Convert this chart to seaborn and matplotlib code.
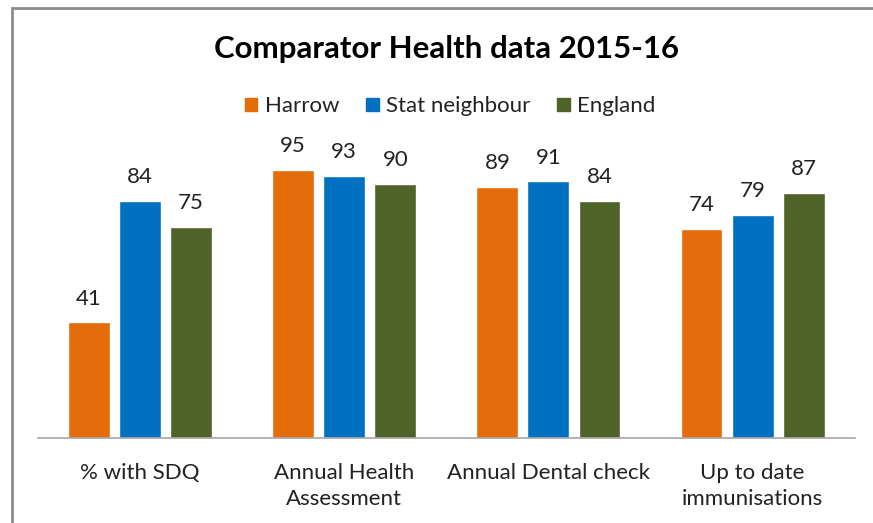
import matplotlib
matplotlib.use("Agg")
import matplotlib.pyplot as plt
import seaborn as sns
import pandas as pd
from matplotlib.patches import Rectangle

categories = ["% with SDQ", "Annual Health\nAssessment", "Annual Dental check", "Up to date\nimmunisations"]
series = ["Harrow", "Stat neighbour", "England"]
harrow = [41, 95, 89, 74]
stat_neighbour = [84, 93, 91, 79]
england = [75, 90, 84, 87]
colors = ["#E46C0A", "#0070C0", "#4F6228"]

rows = []
for name, vals in zip(series, [harrow, stat_neighbour, england]):
    for c, v in zip(categories, vals):
        rows.append({"cat": c, "series": name, "value": v})
df = pd.DataFrame(rows)

sns.set_style("white")
plt.rcParams["font.family"] = ["Lato", "DejaVu Sans"]

fig = plt.figure(figsize=(8.73, 5.23), dpi=100)
ax = fig.add_axes([0.0435, 0.1625, 0.9355, 0.5392])

sns.barplot(data=df, x="cat", y="value", hue="series", order=categories,
            hue_order=series, palette=colors, width=0.75, gap=0.18,
            saturation=1, ax=ax, legend=False)

ax.set_ylim(0, 100)
ax.set_xlim(-0.5, 3.5)
ax.set_xlabel("")
ax.set_ylabel("")
ax.set_yticks([])
for s in ["top", "right", "left"]:
    ax.spines[s].set_visible(False)
ax.spines["bottom"].set_color("#A6A6A6")
ax.spines["bottom"].set_linewidth(1.2)
ax.tick_params(axis="x", length=0, pad=18, labelsize=16, colors="#222222")
for lbl in ax.get_xticklabels():
    lbl.set_linespacing(1.4)
    lbl.set_verticalalignment("top")

for cont in ax.containers:
    ax.bar_label(cont, fmt="%d", padding=10, fontsize=16, color="#222222")

# legend
handles = [Rectangle((0, 0), 1, 1, color=c) for c in colors]
fig.legend(handles, series, loc="center", bbox_to_anchor=(0.516, 0.797), ncol=3,
           frameon=False, fontsize=16, handlelength=0.55, handleheight=0.55,
           handletextpad=0.35, columnspacing=1.2, labelcolor="#222222")

fig.text(0.512, 0.906, "Comparator Health data 2015-16", ha="center", va="center",
         fontsize=22.5, fontweight="bold", color="#000000")

# chart frame (left & top edges visible)
frame = Rectangle((12 / 873, -0.05), 1.2, 1 - 8 / 523 + 0.05, transform=fig.transFigure,
                  fill=False, edgecolor="#8C8C8C", linewidth=2, clip_on=False)
fig.add_artist(frame)

fig.savefig("out.png", dpi=100)
